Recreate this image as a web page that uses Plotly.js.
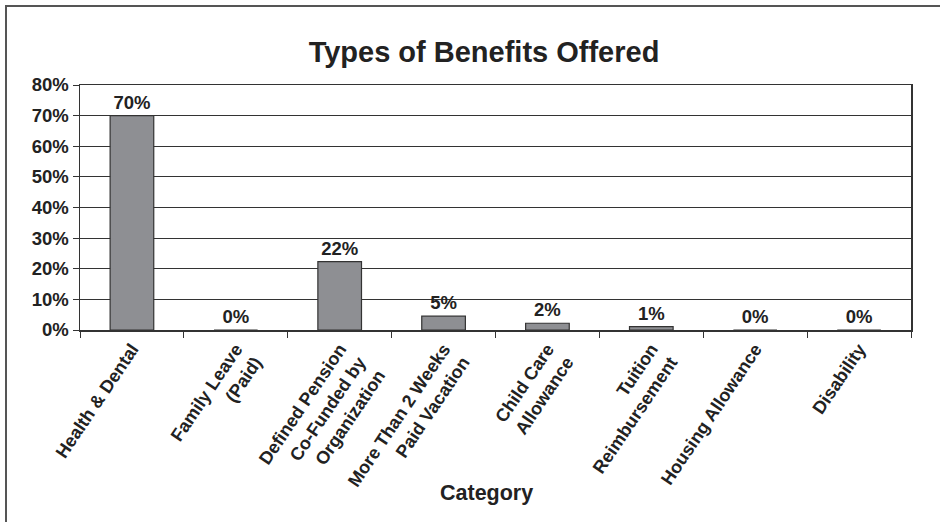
<!DOCTYPE html>
<html>
<head>
<meta charset="utf-8">
<script src="https://cdn.plot.ly/plotly-3.0.1.min.js"></script>
<style>
  html, body { margin: 0; padding: 0; background: #fff; }
  #wrap { position: relative; width: 940px; height: 522px; }
  #chart { width: 940px; height: 522px; }
  #frame { position: absolute; left: 5px; top: 5px; right: 0; bottom: 0;
           border-left: 2px solid #555; border-top: 2px solid #555; pointer-events: none; }
</style>
</head>
<body>
<div id="wrap">
  <div id="chart"></div>
  <div id="frame"></div>
</div>
<script>
const categories = [
  "Health & Dental",
  "Family Leave<br>(Paid)",
  "Defined Pension<br>Co-Funded by<br>Organization",
  "More Than 2 Weeks<br>Paid Vacation",
  "Child Care<br>Allowance",
  "Tuition<br>Reimbursement",
  "Housing Allowance",
  "Disability"
];
const values = [70, 0, 22.3, 4.5, 2.2, 1.1, 0, 0];
const valueLabels = ["70%", "0%", "22%", "5%", "2%", "1%", "0%", "0%"];
const yTickVals = [0, 10, 20, 30, 40, 50, 60, 70, 80];
const yTickText = ["0%", "10%", "20%", "30%", "40%", "50%", "60%", "70%", "80%"];
const xAxisTitle = "Category";

const FONT = "'Liberation Sans', Arial, sans-serif";
const INK = "#222";

const trace = {
  type: "bar",
  x: categories,
  y: values,
  text: valueLabels,
  textposition: "outside",
  cliponaxis: false,
  textfont: { family: FONT, size: 18.5, color: INK, weight: 700 },
  marker: { color: "#8e8f93", line: { color: "#333", width: 1.2 } },
  width: 0.42,
  hoverinfo: "skip"
};

const layout = {
  width: 940,
  height: 522,
  margin: { l: 80, r: 29, t: 85, b: 192 },
  paper_bgcolor: "#fff",
  plot_bgcolor: "#fff",
  showlegend: false,
  font: { family: FONT, color: INK },
  title: {
    text: "Types of Benefits Offered",
    font: { family: FONT, size: 29, color: INK, weight: 700 },
    x: 484 / 940, xref: "container", xanchor: "center",
    y: 1 - 52 / 522, yref: "container", yanchor: "middle"
  },
  xaxis: {
    type: "category",
    tickangle: -56,
    tickfont: { family: FONT, size: 18, color: INK, weight: 700 },
    ticks: "outside",
    tickson: "boundaries",
    ticklen: 6,
    tickcolor: "#333",
    showline: true,
    linecolor: "#333",
    linewidth: 1.5,
    mirror: true,
    showgrid: false,
    automargin: false
  },
  yaxis: {
    range: [0, 80],
    tickvals: yTickVals,
    ticktext: yTickText,
    tickfont: { family: FONT, size: 18.5, color: INK, weight: 700 },
    ticks: "outside",
    ticklen: 6,
    tickcolor: "#333",
    showline: true,
    linecolor: "#333",
    linewidth: 1.5,
    mirror: true,
    showgrid: true,
    gridcolor: "#333",
    gridwidth: 1.2,
    zeroline: false,
    automargin: false,
    fixedrange: true
  },
  annotations: [{
    text: xAxisTitle,
    xref: "paper", yref: "paper",
    x: 0.489, y: (330 - 493) / 245,
    xanchor: "center", yanchor: "middle",
    showarrow: false,
    font: { family: FONT, size: 21.5, color: INK, weight: 700 }
  }]
};

Plotly.newPlot("chart", [trace], layout, { displayModeBar: false, staticPlot: true });
</script>
</body>
</html>
